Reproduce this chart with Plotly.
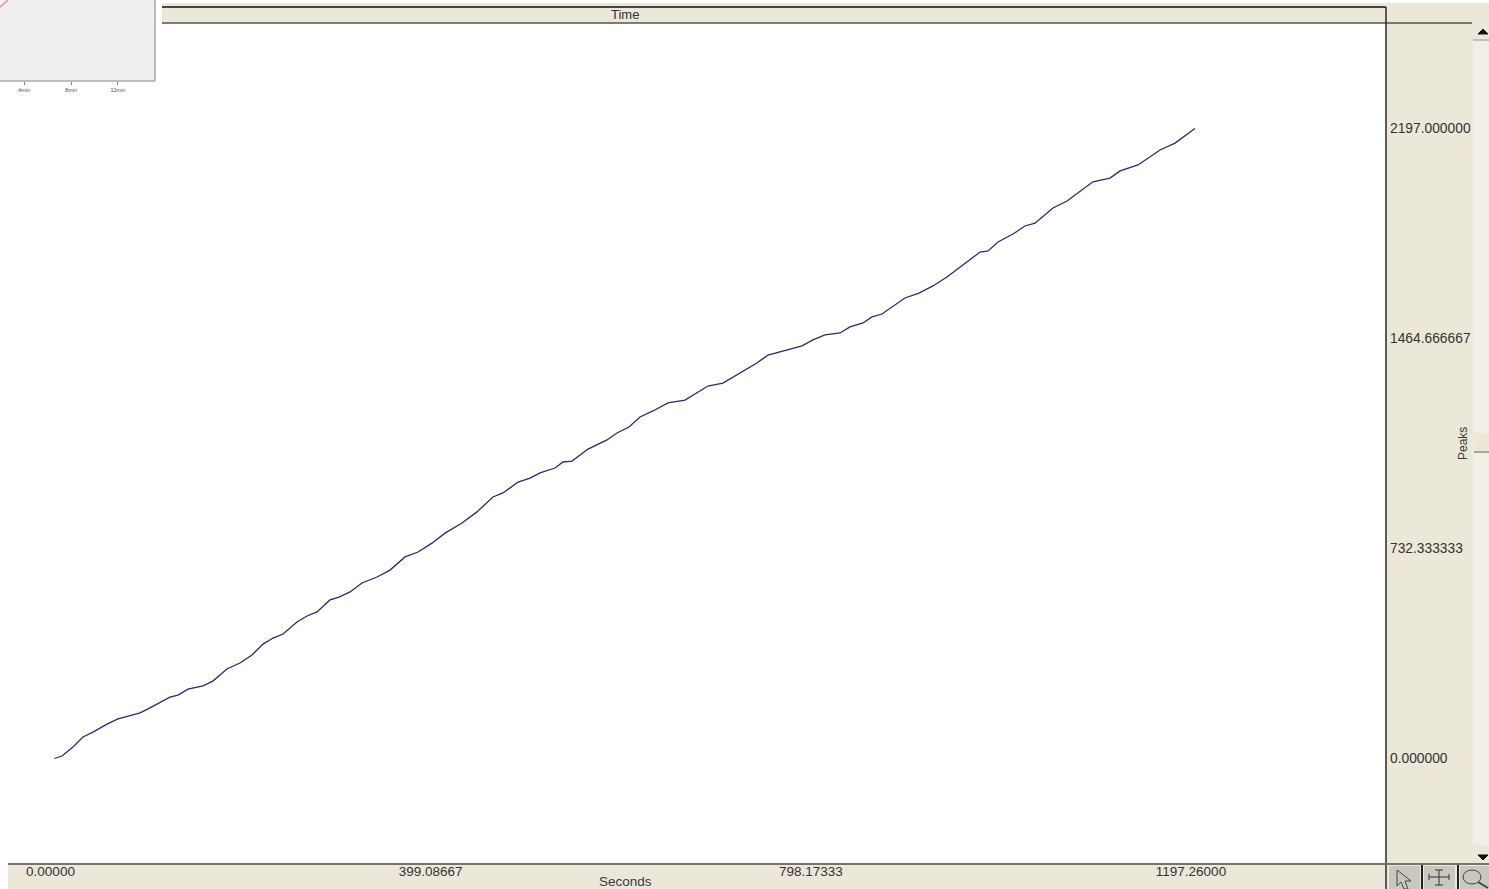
import plotly.graph_objects as go

# ---- chart data ----
seconds = [0, 7.9, 19.4, 29.9, 40.4, 55.1, 66.7, 89.8, 98.2, 110.8, 121.2, 129.6, 140.1, 155.9, 166.3, 181,
           194.7, 207.3, 218.9, 229.4, 239.9, 254.6, 265.1, 275.6, 289.2, 298.7, 310.2, 322.8, 338.6, 352.2,
           368, 381.6, 396.3, 410, 427.8, 443.5, 460.3, 470.8, 486.6, 499.2, 509.7, 525.4, 533.8, 543.3,
           560.1, 580, 590.5, 603.1, 614.6, 628.3, 644, 661.9, 674.4, 686, 701.7, 721.7, 737.4, 749, 764.7,
           784.7, 796.2, 808.8, 824.6, 835.1, 848.8, 858.2, 868.7, 880.2, 892.8, 907.5, 922.2, 936.9, 957.9,
           971.6, 980, 990.5, 1006.2, 1018.8, 1029.3, 1048.2, 1062.9, 1078.7, 1090.2, 1108.1, 1118.6,
           1137.5, 1160.6, 1176.3, 1197.26]
peaks = [0, 8.7, 40, 75, 92, 120, 138, 159, 173, 197, 214, 221, 242, 253, 270, 312,
         333, 361, 399, 420, 434, 476, 497, 511, 553, 563, 581, 612, 633, 657,
         703, 720, 751, 786, 821, 860, 912, 926, 964, 978, 996, 1013, 1034, 1037,
         1079, 1111, 1135, 1156, 1191, 1212, 1240, 1250, 1274, 1299, 1309, 1348, 1379, 1407, 1421,
         1439, 1460, 1477, 1484, 1505, 1519, 1540, 1550, 1578, 1606, 1623, 1648, 1679, 1731,
         1766, 1770, 1801, 1829, 1857, 1867, 1920, 1944, 1983, 2011, 2024, 2049,
         2070, 2122, 2146, 2197]
x_tick_vals = [0, 399.08667, 798.17333, 1197.26]
x_tick_text = ["0.00000", "399.08667", "798.17333", "1197.26000"]
y_tick_vals = [0, 732.333333, 1464.666667, 2197]
y_tick_text = ["0.000000", "732.333333", "1464.666667", "2197.000000"]
x_title = "Seconds"
y_title = "Peaks"
top_title = "Time"

inset_minutes = [1.957, 2.64]
inset_level = [91, 100]
inset_tick_vals = [4, 8, 12]
inset_tick_text = ["4min", "8min", "12min"]

# ---- layout helpers (pixel position -> paper fraction) ----
W, H = 1489, 889
PL_R, PL_B = 1386, 864
FONT = "Liberation Sans, Arial, sans-serif"
BEIGE = "#ebe8d9"


def X(p):
    return p / PL_R


def Y(p):
    return (PL_B - p) / PL_B


def rect(x0, y0, x1, y1, fill):
    return dict(type="rect", xref="paper", yref="paper", x0=X(x0), x1=X(x1), y0=Y(y0), y1=Y(y1),
                fillcolor=fill, line_width=0, layer="below")


def seg(x0, y0, x1, y1, color, w=1):
    return dict(type="line", xref="paper", yref="paper", x0=X(x0), x1=X(x1), y0=Y(y0), y1=Y(y1),
                line=dict(color=color, width=w), layer="below")


def poly(pts, fill, line=None, w=1):
    d = "M " + " L ".join(f"{X(a):.5f},{Y(b):.5f}" for a, b in pts) + " Z"
    return dict(type="path", xref="paper", yref="paper", path=d, fillcolor=fill,
                line=dict(color=line or fill, width=w), layer="above")


shapes = [
    # header and footer bands
    rect(162, 3, W, 23, BEIGE),
    rect(PL_R, 3, W, H, BEIGE),
    rect(8, PL_B, W, H, BEIGE),
    # scroll bar
    rect(1473, 40, W, 845, "#f0eee5"),
    rect(1474, 433, W, 452, BEIGE),
    seg(1474, 452, W, 452, "#8f8c80", 1.5),
    seg(1473, 40, W, 40, "#b5b2a5", 1.5),
    poly([(1478, 34), (1488, 34), (1483, 29)], "#111111"),
    poly([(1478, 855), (1488, 855), (1483, 860)], "#111111"),
    # frame lines
    seg(162, 7, PL_R, 7, "#111111", 1.5),
    seg(162, 23, 1472, 23, "#55534c", 1.5),
    seg(PL_R, 7, PL_R, H, "#2a2a2a", 1.5),
    seg(8, PL_B, W, PL_B, "#77736a", 2),
    # tool buttons
    rect(1389, 866, 1420, H, "#c9c8c0"),
    rect(1424, 866, 1455, H, "#c9c8c0"),
    rect(1460, 866, W, H, "#c9c8c0"),
    seg(1422, 865, 1422, H, "#222222", 2),
    seg(1458, 865, 1458, H, "#222222", 2),
    poly([(1397, 870), (1397, 886), (1401, 882), (1404, 889), (1408, 889), (1405, 881), (1411, 881)],
         "rgba(0,0,0,0)", "#444444", 1),
    seg(1429, 877, 1449, 877, "#333333", 1),
    seg(1439, 870, 1439, 885, "#333333", 1),
    seg(1435, 870, 1443, 870, "#333333", 1),
    seg(1435, 885, 1443, 885, "#333333", 1),
    seg(1429, 874, 1429, 880, "#333333", 1),
    seg(1449, 874, 1449, 880, "#333333", 1),
    dict(type="circle", xref="paper", yref="paper", x0=X(1463), x1=X(1481), y0=Y(870), y1=Y(884),
         line=dict(color="#444444", width=1), fillcolor="rgba(0,0,0,0)", layer="above"),
    seg(1478, 882, 1488, 888, "#444444", 2),
    # inset panel
    rect(0, 0, 155, 81, "#efefef"),
    seg(155, 0, 155, 81, "#a8a8a8", 1.5),
    seg(0, 81, 155, 81, "#a8a8a8", 1.5),
]

annotations = [
    dict(text=top_title, xref="paper", yref="paper", x=X(624.5), y=Y(14.5), showarrow=False,
         xanchor="center", yanchor="middle", font=dict(family=FONT, size=13, color="#333333")),
    dict(text=x_title, xref="paper", yref="paper", x=X(625), y=Y(881.5), showarrow=False,
         xanchor="center", yanchor="middle", font=dict(family=FONT, size=13.5, color="#3a3a3a")),
    dict(text=y_title, xref="paper", yref="paper", x=X(1463), y=Y(444), showarrow=False, textangle=-90,
         xanchor="center", yanchor="middle", font=dict(family=FONT, size=12, color="#3a3a3a")),
]

fig = go.Figure()
fig.add_trace(go.Scatter(x=seconds, y=peaks, mode="lines", xaxis="x", yaxis="y",
                         line=dict(color="#2b2a70", width=1.3), showlegend=False))
fig.add_trace(go.Scatter(x=inset_minutes, y=inset_level, mode="lines", xaxis="x2", yaxis="y2",
                         line=dict(color="#f08e8e", width=1.5), showlegend=False))

fig.update_layout(
    width=W, height=H,
    margin=dict(l=0, r=W - PL_R, t=0, b=H - PL_B, pad=0),
    paper_bgcolor="white", plot_bgcolor="rgba(0,0,0,0)",
    showlegend=False, shapes=shapes, annotations=annotations,
    xaxis=dict(domain=[0, 1], range=[-57.21, 1397.8], anchor="y", tickvals=x_tick_vals, ticktext=x_tick_text,
               showgrid=False, zeroline=False, showline=False, ticks="", ticklabelshift=-4, ticklabelstandoff=-3,
               tickfont=dict(family=FONT, size=13.5, color="#333333")),
    yaxis=dict(domain=[0, (PL_B - 23) / PL_B], range=[-367.9, 2564.9], anchor="x", side="right",
               tickvals=y_tick_vals, ticktext=y_tick_text, showgrid=False, zeroline=False, showline=False,
               ticks="", ticklabelstandoff=3, tickfont=dict(family=FONT, size=13.8, color="#333333")),
    xaxis2=dict(domain=[0, 155 / PL_R], range=[1.957, 15.15], anchor="y2", tickvals=inset_tick_vals,
                ticktext=inset_tick_text, showgrid=False, zeroline=False, showline=False, ticks="outside",
                ticklen=3, tickcolor="#888888", tickfont=dict(family=FONT, size=5.5, color="#555555")),
    yaxis2=dict(domain=[(PL_B - 81) / PL_B, 1], range=[0, 100], anchor="x2", visible=False),
)

fig.write_html("out.html", config={"displayModeBar": False},
               post_script="document.body.style.margin='0';document.body.style.overflow='hidden';")
